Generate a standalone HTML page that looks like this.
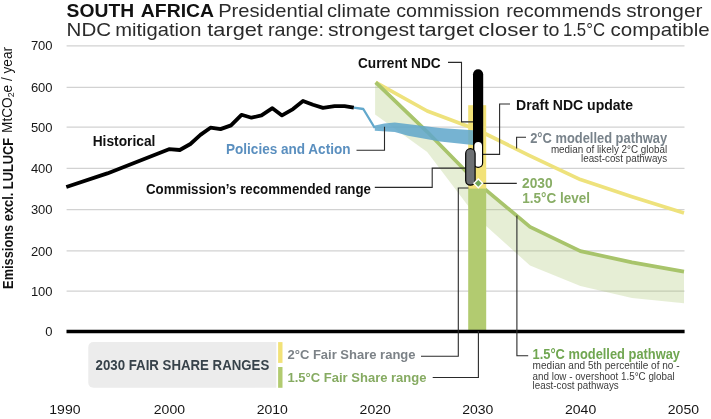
<!DOCTYPE html>
<html><head><meta charset="utf-8">
<style>
html,body{margin:0;padding:0;background:#fff;}
svg{display:block;will-change:transform;font-family:"Liberation Sans",sans-serif;}
.b{font-weight:bold;}
</style></head>
<body>
<svg width="711" height="419" viewBox="0 0 711 419">
<rect width="711" height="419" fill="#fff"/>
<!-- title -->
<g font-size="18.6" fill="#2b2b2b">
<text x="66.6" y="17.2" textLength="67.5" lengthAdjust="spacingAndGlyphs" class="b" fill="#111">SOUTH</text>
<text x="140.8" y="17.2" textLength="73.3" lengthAdjust="spacingAndGlyphs" class="b" fill="#111">AFRICA</text>
<text x="218.2" y="17.2" textLength="105.2" lengthAdjust="spacingAndGlyphs">Presidential</text>
<text x="327.0" y="17.2" textLength="63.8" lengthAdjust="spacingAndGlyphs">climate</text>
<text x="396.3" y="17.2" textLength="103.4" lengthAdjust="spacingAndGlyphs">commission</text>
<text x="506.2" y="17.2" textLength="114.9" lengthAdjust="spacingAndGlyphs">recommends</text>
<text x="626.2" y="17.2" textLength="76.2" lengthAdjust="spacingAndGlyphs">stronger</text>
<text x="66.6" y="35.8" textLength="44.5" lengthAdjust="spacingAndGlyphs">NDC</text>
<text x="115.2" y="35.8" textLength="86.2" lengthAdjust="spacingAndGlyphs">mitigation</text>
<text x="207.3" y="35.8" textLength="55.6" lengthAdjust="spacingAndGlyphs">target</text>
<text x="267.9" y="35.8" textLength="56" lengthAdjust="spacingAndGlyphs">range:</text>
<text x="328.0" y="35.8" textLength="87.0" lengthAdjust="spacingAndGlyphs">strongest</text>
<text x="418.5" y="35.8" textLength="55.6" lengthAdjust="spacingAndGlyphs">target</text>
<text x="478.6" y="35.8" textLength="59.9" lengthAdjust="spacingAndGlyphs">closer</text>
<text x="543" y="35.8" textLength="16.4" lengthAdjust="spacingAndGlyphs">to</text>
<text x="562.9" y="35.8" textLength="42.1" lengthAdjust="spacingAndGlyphs">1.5°C</text>
<text x="610.5" y="35.8" textLength="99.2" lengthAdjust="spacingAndGlyphs">compatible</text>
</g>
<!-- gridlines -->
<g stroke="#d2d2d2" stroke-width="1.25">
<line x1="66.6" x2="684.5" y1="45.8" y2="45.8"/>
<line x1="66.6" x2="684.5" y1="87.3" y2="87.3"/>
<line x1="66.6" x2="684.5" y1="127.1" y2="127.1"/>
<line x1="66.6" x2="684.5" y1="168.4" y2="168.4"/>
<line x1="66.6" x2="684.5" y1="209.7" y2="209.7"/>
<line x1="66.6" x2="684.5" y1="250.9" y2="250.9"/>
<line x1="66.6" x2="684.5" y1="291.0" y2="291.0"/>
</g>
<!-- y labels -->
<g font-size="13" fill="#161616" text-anchor="end">
<text x="52.6" y="50.4">700</text>
<text x="52.6" y="91.9">600</text>
<text x="52.6" y="131.7">500</text>
<text x="52.6" y="173.0">400</text>
<text x="52.6" y="214.3">300</text>
<text x="52.6" y="255.5">200</text>
<text x="52.6" y="295.6">100</text>
<text x="52.6" y="336.1">0</text>
</g>
<!-- y axis title -->
<g transform="translate(12.2,288.9) rotate(-90)" font-size="14" fill="#111">
<text x="0" y="0.6" class="b" font-size="14.3" textLength="151" lengthAdjust="spacingAndGlyphs">Emissions excl. LULUCF</text>
<text x="156" y="0" textLength="86" lengthAdjust="spacingAndGlyphs">MtCO<tspan font-size="9" dy="2">2</tspan><tspan dy="-2">e / year</tspan></text>
</g>
<!-- light green band -->
<polygon fill="#a4c163" fill-opacity="0.27" points="375.1,82.4 427.2,131.8 477.7,183.2 530,226.8 580.4,251.1 632,262.4 684,271.6 684,303.3 632,298 580.4,286 530,265.5 477.7,218.5 427.2,152 375.1,114.5"/>
<!-- yellow line -->
<polyline fill="none" stroke="#eee27c" stroke-width="3.7" stroke-linejoin="round" points="375.7,82.4 427.2,111 477.7,130 529,155.3 580.4,179.6 632,196.8 684,213"/>
<!-- green line -->
<polyline fill="none" stroke="#a8c46b" stroke-width="3.7" stroke-linejoin="round" points="375.7,82.4 427.2,131.8 477.7,183.2 530,226.8 580.4,251.1 632,262.4 684,271.6"/>
<!-- yellow fair share bar -->
<rect x="468.2" y="105.2" width="18" height="84" fill="#f2e278"/>
<!-- green fair share bar -->
<rect x="468.2" y="188.6" width="18" height="142.6" fill="#b2cb70"/>
<!-- blue band -->
<polygon fill="#5fa6cb" fill-opacity="0.86" points="374.8,125.4 384.3,123.5 394.8,122.4 440,128 473,130.2 473,145 440,141.5 408,135.8 394.8,132 374.8,130.8"/>
<polyline fill="none" stroke="#62a8cc" stroke-width="2.3" stroke-linejoin="round" points="353.8,107.6 363.3,109 374.8,128"/>
<!-- axis -->
<line x1="66.5" x2="684.6" y1="331.4" y2="331.4" stroke="#000" stroke-width="3.5"/>
<!-- historical -->
<polyline fill="none" stroke="#000" stroke-width="3.8" stroke-linejoin="round" points="66.3,187.0 107.3,173.4 169.0,149.2 179.8,150.0 190.4,144.0 200.4,134.9 210.5,127.7 220.5,129.1 231.0,125.4 241.5,114.8 251.5,117.7 261.5,115.4 272.4,108.2 282.0,115.4 293.0,109.1 303.0,101.0 313.0,104.8 323.0,107.9 334.6,106.2 344.6,106.2 353.8,107.6"/>
<!-- leaders -->
<g fill="none" stroke="#2a2a2a" stroke-width="1.1">
<polyline points="448,62.4 461.5,62.4 461.5,121.9 473,121.9"/>
<polyline points="510,104 499.6,104 499.6,154.4 483,154.4"/>
<polyline points="526,137.3 516.6,137.3 516.6,148.5"/>
<polyline points="483,183.4 516.8,183.4"/>
<polyline points="356.5,150.3 384.5,150.3 384.5,126.7"/>
<polyline points="374.8,187.4 432.2,187.4 432.2,168.1 465.5,168.1"/>
<polyline points="421,356.3 458.3,356.3 458.3,188 468.5,188"/>
<polyline points="432.7,377.5 478.4,377.5 478.4,331"/>
<polyline points="528.2,355.8 516.9,355.8 516.9,215.5"/>
</g>
<!-- black bar current NDC -->
<rect x="473" y="69.2" width="10.2" height="98.8" rx="5.1" fill="#000"/>
<!-- white pill -->
<rect x="474.4" y="142" width="7.6" height="24.8" rx="3.8" fill="#fff"/>
<!-- grey pill -->
<rect x="465.7" y="148.7" width="9.4" height="36.5" rx="4.7" fill="#6d7073" stroke="#000" stroke-width="1.2"/>
<!-- diamond -->
<polygon points="478.3,178.9 482.7,183.3 478.3,187.7 473.9,183.3" fill="#6fa557" stroke="#fff" stroke-width="1.4"/>
<!-- labels -->
<g class="b" font-size="13.8">
<text x="92.7" y="146.4" fill="#111" textLength="62.7" lengthAdjust="spacingAndGlyphs">Historical</text>
<text x="226" y="154" fill="#5a8fbf" textLength="124.5" lengthAdjust="spacingAndGlyphs">Policies and Action</text>
<text x="146" y="193.6" fill="#111" textLength="225" lengthAdjust="spacingAndGlyphs">Commission’s recommended range</text>
<text x="358" y="68.3" fill="#111" textLength="82.6" lengthAdjust="spacingAndGlyphs">Current NDC</text>
<text x="516.1" y="110.2" fill="#111" textLength="117" lengthAdjust="spacingAndGlyphs">Draft NDC update</text>
<text x="530.2" y="142.9" font-size="14" fill="#79838b" textLength="137" lengthAdjust="spacingAndGlyphs">2°C modelled pathway</text>
<text x="522" y="187.9" fill="#88ad65" textLength="30.6" lengthAdjust="spacingAndGlyphs">2030</text>
<text x="522.3" y="202.9" fill="#88ad65" textLength="67.6" lengthAdjust="spacingAndGlyphs">1.5°C level</text>
<text x="532.6" y="359.4" font-size="14" fill="#70a651" textLength="147.4" lengthAdjust="spacingAndGlyphs">1.5°C modelled pathway</text>
</g>
<g font-size="10.6" fill="#3c3c3c">
<text x="667.2" y="152.6" text-anchor="end" textLength="116.3" lengthAdjust="spacingAndGlyphs">median of likely 2°C global</text>
<text x="667.2" y="162.2" text-anchor="end" textLength="86.2" lengthAdjust="spacingAndGlyphs">least-cost pathways</text>
<text x="532.6" y="368.7" textLength="147" lengthAdjust="spacingAndGlyphs">median and 5th percentile of no -</text>
<text x="532.6" y="379.5" textLength="142" lengthAdjust="spacingAndGlyphs">and low - overshoot 1.5°C global</text>
<text x="532.6" y="388.8" textLength="86.2" lengthAdjust="spacingAndGlyphs">least-cost pathways</text>
</g>
<!-- legend box -->
<path d="M93.3,342 H276.3 V387.8 H93.3 A5,5 0 0 1 88.3,382.8 V347 A5,5 0 0 1 93.3,342 Z" fill="#ececec"/>
<text x="95.6" y="369.5" class="b" font-size="13.8" fill="#37424a" textLength="173.7" lengthAdjust="spacingAndGlyphs">2030 FAIR SHARE RANGES</text>
<rect x="278.1" y="342.1" width="4.4" height="20.8" fill="#f2e278"/>
<rect x="278.1" y="367" width="4.4" height="20.8" fill="#b2cb70"/>
<g class="b" font-size="13.5">
<text x="287.5" y="358.5" fill="#7c8287" textLength="128" lengthAdjust="spacingAndGlyphs">2°C Fair Share range</text>
<text x="287.5" y="381.5" fill="#86ab62" textLength="139" lengthAdjust="spacingAndGlyphs">1.5°C Fair Share range</text>
</g>
<!-- x labels -->
<g font-size="13.3" fill="#161616" text-anchor="middle">
<text x="64.9" y="413.7" textLength="31.2" lengthAdjust="spacingAndGlyphs">1990</text>
<text x="169.4" y="413.7" textLength="31.2" lengthAdjust="spacingAndGlyphs">2000</text>
<text x="272.3" y="413.7" textLength="31.2" lengthAdjust="spacingAndGlyphs">2010</text>
<text x="375.2" y="413.7" textLength="31.2" lengthAdjust="spacingAndGlyphs">2020</text>
<text x="477.8" y="413.7" textLength="31.2" lengthAdjust="spacingAndGlyphs">2030</text>
<text x="580.6" y="413.7" textLength="31.2" lengthAdjust="spacingAndGlyphs">2040</text>
<text x="683.4" y="413.7" textLength="31.2" lengthAdjust="spacingAndGlyphs">2050</text>
</g>
</svg>
</body></html>
